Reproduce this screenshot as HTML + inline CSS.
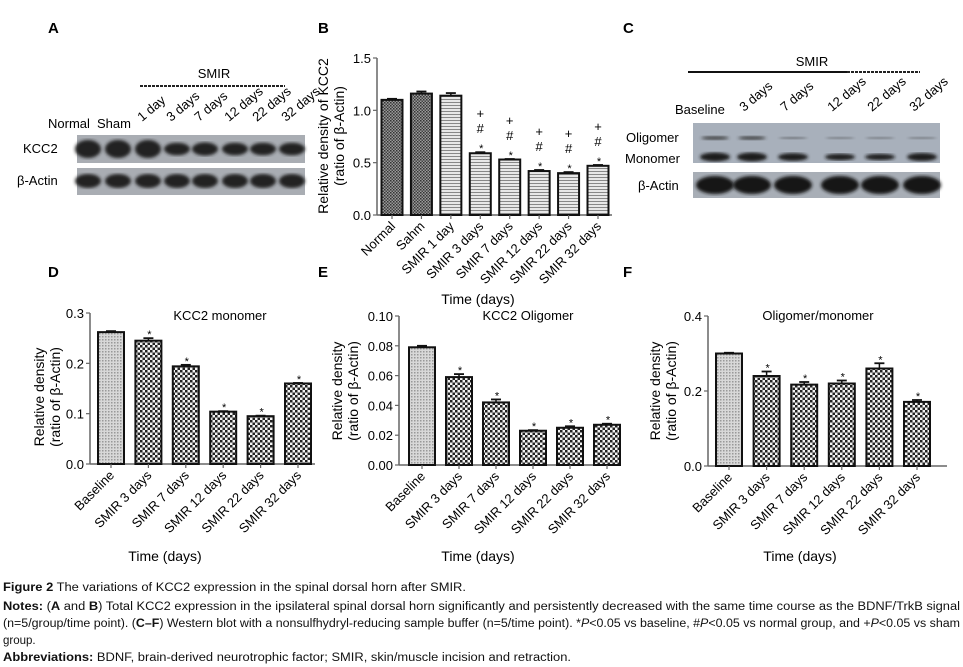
<!DOCTYPE html>
<html><head><meta charset="utf-8"><style>
html,body{margin:0;padding:0;background:#fff}
svg{display:block;font-family:"Liberation Sans",sans-serif}
</style></head><body>
<svg id="fig" width="963" height="667" viewBox="0 0 963 667" xmlns="http://www.w3.org/2000/svg">
<defs>
<pattern id="pDark" width="3" height="3" patternUnits="userSpaceOnUse"><rect width="3" height="3" fill="#9a9a9a"/><rect width="1.5" height="1.5" fill="#333"/><rect x="1.5" y="1.5" width="1.5" height="1.5" fill="#444"/></pattern>
<pattern id="pLines" width="4" height="3" patternUnits="userSpaceOnUse"><rect width="4" height="3" fill="#e8e8e8"/><rect y="0" width="4" height="1" fill="#888"/></pattern>
<pattern id="pDots" width="3" height="3" patternUnits="userSpaceOnUse"><rect width="3" height="3" fill="#d8d8d8"/><rect width="1.5" height="1.5" fill="#999"/></pattern>
<pattern id="pCheck" width="5" height="5" patternUnits="userSpaceOnUse"><rect width="5" height="5" fill="#f4f4f4"/><rect width="2.5" height="2.5" fill="#222"/><rect x="2.5" y="2.5" width="2.5" height="2.5" fill="#222"/></pattern>
<filter id="blur"><feGaussianBlur stdDeviation="1.6"/></filter>
</defs>
<g id="labels" font-weight="bold" font-size="15">
<text x="48" y="33">A</text>
<text x="318" y="33">B</text>
<text x="623" y="33">C</text>
<text x="48" y="277">D</text>
<text x="318" y="277">E</text>
<text x="623" y="277">F</text>
</g>

<g id="blotA" font-size="13">
<text x="214" y="78" text-anchor="middle">SMIR</text>
<line x1="140" y1="86" x2="285" y2="86" stroke="#222" stroke-width="2" stroke-dasharray="3,1"/>
<text x="48" y="128">Normal</text><text x="97" y="128">Sham</text>
<text x="23" y="153">KCC2</text><text x="17" y="185">β-Actin</text>
<rect x="77" y="135" width="228" height="28" fill="#a9adb3"/>
<rect x="77" y="168" width="228" height="27" fill="#a9adb3"/>
</g>

<g id="blotC" font-size="13">
<text x="812" y="66" text-anchor="middle">SMIR</text>
<line x1="688" y1="72" x2="847" y2="72" stroke="#111" stroke-width="2"/>
<line x1="847" y1="72" x2="920" y2="72" stroke="#222" stroke-width="2" stroke-dasharray="3,1"/>
<text x="675" y="114">Baseline</text>
<text x="626" y="142">Oligomer</text><text x="625" y="163">Monomer</text><text x="638" y="190">β-Actin</text>
<rect x="693" y="123" width="247" height="40" fill="#a8b0bb"/>
<rect x="693" y="172" width="247" height="26" fill="#a8aeb6"/>
</g>

<g id="charts"></g>

<g id="caption" font-size="11.5" fill="#111">
<text x="3" y="591" textLength="463" lengthAdjust="spacingAndGlyphs"><tspan font-weight="bold">Figure 2</tspan> The variations of KCC2 expression in the spinal dorsal horn after SMIR.</text>
<text x="3" y="610" textLength="957" lengthAdjust="spacingAndGlyphs"><tspan font-weight="bold">Notes:</tspan> (<tspan font-weight="bold">A</tspan> and <tspan font-weight="bold">B</tspan>) Total KCC2 expression in the ipsilateral spinal dorsal horn significantly and persistently decreased with the same time course as the BDNF/TrkB signal</text>
<text x="3" y="627" textLength="957" lengthAdjust="spacingAndGlyphs">(n=5/group/time point). (<tspan font-weight="bold">C–F</tspan>) Western blot with a nonsulfhydryl-reducing sample buffer (n=5/time point). *<tspan font-style="italic">P</tspan>&lt;0.05 vs baseline, #<tspan font-style="italic">P</tspan>&lt;0.05 vs normal group, and +<tspan font-style="italic">P</tspan>&lt;0.05 vs sham</text>
<text x="3" y="644">group.</text>
<text x="3" y="661" textLength="568" lengthAdjust="spacingAndGlyphs"><tspan font-weight="bold">Abbreviations:</tspan> BDNF, brain-derived neurotrophic factor; SMIR, skin/muscle incision and retraction.</text>
</g>
</svg>
<script>
const blotALanes = ["1 day","3 days","7 days","12 days","22 days","32 days"];
const blotAKcc2 = [1.0,1.0,1.0,0.55,0.6,0.55,0.55,0.55];
const blotCLanes = ["3 days","7 days","12 days","22 days","32 days"];
const blotCMono = [1.0,1.0,0.8,0.6,0.55,0.85];
const blotCOligo = [0.5,0.5,0.15,0.1,0.1,0.1];

const bCategories = ["Normal","Sahm","SMIR 1 day","SMIR 3 days","SMIR 7 days","SMIR 12 days","SMIR 22 days","SMIR 32 days"];
const bValues = [1.10,1.16,1.14,0.59,0.53,0.42,0.40,0.47];
const bErrors = [0.01,0.02,0.025,0.01,0.005,0.01,0.01,0.008];
const bTicks = ["0.0","0.5","1.0","1.5"];
const bMarks = ["","","","+#*","+#*","+#*","+#*","+#*"];

const dfCategories = ["Baseline","SMIR 3 days","SMIR 7 days","SMIR 12 days","SMIR 22 days","SMIR 32 days"];
const dValues = [0.262,0.245,0.194,0.104,0.095,0.160];
const dErrors = [0.002,0.005,0.003,0.001,0.001,0.001];
const dTicks = ["0.0","0.1","0.2","0.3"];
const eValues = [0.079,0.059,0.042,0.023,0.025,0.027];
const eErrors = [0.001,0.002,0.002,0.0004,0.001,0.0007];
const eTicks = ["0.00","0.02","0.04","0.06","0.08","0.10"];
const fValues = [0.300,0.240,0.217,0.220,0.260,0.171];
const fErrors = [0.002,0.012,0.007,0.008,0.014,0.005];
const fTicks = ["0.0","0.2","0.4"];

const NS="http://www.w3.org/2000/svg";
const root=document.getElementById('charts');
function mk(tag,attrs,parent){const e=document.createElementNS(NS,tag);for(const k in attrs)e.setAttribute(k,attrs[k]);(parent||root).appendChild(e);return e;}

const gA=document.getElementById('blotA');
const aX=[88,118,148,177,205,235,263,292];
blotALanes.forEach((l,i)=>{const x=aX[i+2];const t=mk('text',{x:x-6,y:122,'font-size':13,transform:`rotate(-40 ${x-6} 122)`},gA);t.textContent=l;

});
blotAKcc2.forEach((v,i)=>{const b=mk('ellipse',{cx:aX[i],cy:149,rx:13,ry:3+6*v,fill:'#222',filter:'url(#blur)'},gA);


const a=mk('ellipse',{cx:aX[i],cy:181,rx:13,ry:7,fill:'#222',filter:'url(#blur)'},gA);

});

const gC=document.getElementById('blotC');
const cX=[715,752,793,840,880,922];
blotCLanes.forEach((l,i)=>{const x=cX[i+1];const t=mk('text',{x:x-8,y:112,'font-size':13,transform:`rotate(-40 ${x-8} 112)`},gC);t.textContent=l;

});
cX.forEach((x,i)=>{
const o=mk('ellipse',{cx:x,cy:138,rx:14,ry:1+1.5*blotCOligo[i],fill:'#333',opacity:0.4+blotCOligo[i],filter:'url(#blur)'},gC);


const m=mk('ellipse',{cx:x,cy:157,rx:15,ry:1.5+3*blotCMono[i],fill:'#1a1a1a',filter:'url(#blur)'},gC);


const a=mk('ellipse',{cx:x,cy:185,rx:19,ry:9,fill:'#151515',filter:'url(#blur)'},gC);

});

function chart(o){
  const g=mk('g',{});
  
  
  const yMax=parseFloat(o.ticks[o.ticks.length-1]);
  const y=v=>o.y0-(v/yMax)*(o.y0-o.y1);
  const n=o.cats.length;
  const x=i=>o.xFirst+i*(o.xLast-o.xFirst)/(n-1);
  const ya=mk('line',{x1:o.ax,y1:o.y1,x2:o.ax,y2:o.y0,stroke:'#666','stroke-width':1.5},g);
  
  
  const xa=mk('line',{x1:o.ax,y1:o.y0,x2:o.axEnd,y2:o.y0,stroke:'#666','stroke-width':1.5},g);
  
  
  o.ticks.forEach(t=>{const v=parseFloat(t);const yy=y(v);
    mk('line',{x1:o.ax-4,y1:yy,x2:o.ax,y2:yy,stroke:'#666','stroke-width':1.2},g);
    const tl=mk('text',{x:o.ax-6,y:yy+5,'text-anchor':'end','font-size':o.fs},g);tl.textContent=t;
    
    });
  o.cats.forEach((c,i)=>{
    const cx=x(i);const v=o.vals[i];const top=y(v);
    const bar=mk('rect',{x:cx-o.bw/2,y:top,width:o.bw,height:o.y0-top,fill:`url(#${o.fill(i)})`,stroke:'#111','stroke-width':2},g);
    
    
    const et=y(v+o.errs[i]);
    mk('line',{x1:cx,y1:top,x2:cx,y2:et,stroke:'#111','stroke-width':1.5},g);
    mk('line',{x1:cx-5,y1:et,x2:cx+5,y2:et,stroke:'#111','stroke-width':1.8},g);
    mk('line',{x1:cx,y1:o.y0,x2:cx,y2:o.y0+4,stroke:'#666','stroke-width':1.2},g);
    const tl=mk('text',{x:cx+4,y:o.y0+12,'text-anchor':'end','font-size':o.fs,transform:`rotate(-45 ${cx+4} ${o.y0+12})`},g);tl.textContent=c;
    
    
    const m=o.marks[i];
    if(m){const syms=m.split('');syms.forEach((s,k)=>{const off=(syms.length-1-k);
      const st=mk('text',{x:cx+(s==='*'?1:0),y:et-4-off*15+(s==='*'?4:0),'text-anchor':'middle','font-size':s==='*'?11:13},g);
      st.textContent=s;
      
      });}
  });
  const yl=mk('text',{'text-anchor':'middle','font-size':o.fs+1,transform:`translate(${o.ylx} ${o.ylc}) rotate(-90)`},g);
  
  
  const t1=mk('tspan',{x:0,y:0},yl);t1.textContent=o.yl1;
  const t2=mk('tspan',{x:0,y:o.fs+3},yl);t2.textContent='(ratio of β-Actin)';
  const xt=mk('text',{x:o.xtX,y:o.xtY,'text-anchor':'middle','font-size':o.fs+1},g);xt.textContent='Time (days)';
  
  
  if(o.title){const tt=mk('text',{x:o.titleX,y:320,'text-anchor':'middle','font-size':13},g);tt.textContent=o.title;
    
    }
}
chart({name:'chart-b',cats:bCategories,vals:bValues,errs:bErrors,ticks:bTicks,marks:bMarks,y0:215,y1:58,ax:377,axEnd:612,xFirst:392,xLast:598,bw:21,fs:13,
  fill:i=>i<2?'pDark':'pLines',ylx:328,ylc:136,yl1:'Relative density of KCC2',xtX:478,xtY:304});
const star=['','*','*','*','*','*'];
chart({name:'chart-d',cats:dfCategories,vals:dValues,errs:dErrors,ticks:dTicks,marks:star,y0:464,y1:313,ax:90,axEnd:315,xFirst:111,xLast:298,bw:26,fs:13,
  fill:i=>i===0?'pDots':'pCheck',ylx:44,ylc:397,yl1:'Relative density',xtX:165,xtY:561,title:'KCC2 monomer',titleX:220});
chart({name:'chart-e',cats:dfCategories,vals:eValues,errs:eErrors,ticks:eTicks,marks:star,y0:465,y1:316,ax:399,axEnd:620,xFirst:422,xLast:607,bw:26,fs:13,
  fill:i=>i===0?'pDots':'pCheck',ylx:342,ylc:391,yl1:'Relative density',xtX:478,xtY:561,title:'KCC2 Oligomer',titleX:528});
chart({name:'chart-f',cats:dfCategories,vals:fValues,errs:fErrors,ticks:fTicks,marks:star,y0:466,y1:316,ax:708,axEnd:947,xFirst:729,xLast:917,bw:26,fs:13,
  fill:i=>i===0?'pDots':'pCheck',ylx:660,ylc:391,yl1:'Relative density',xtX:800,xtY:561,title:'Oligomer/monomer',titleX:818});
</script>
</body></html>
